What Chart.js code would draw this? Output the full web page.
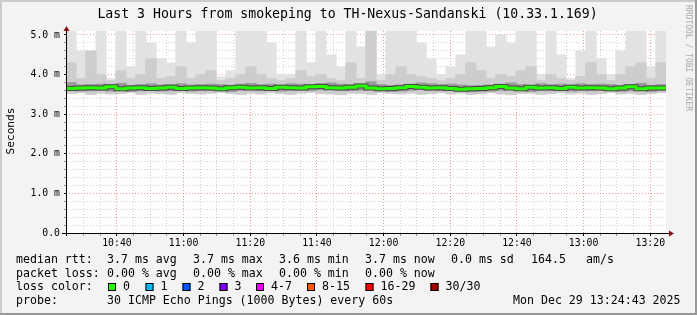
<!DOCTYPE html>
<html lang="en">
<head>
<meta charset="UTF-8">
<title>Last 3 Hours from smokeping to TH-Nexus-Sandanski</title>
<script src="https://cdn.jsdelivr.net/npm/chart.js"></script>
<style>
  html, body { margin: 0; padding: 0; background: #f3f3f3; }
  #wrap { position: relative; width: 697px; height: 315px; }
</style>
</head>
<body>
<div id="wrap"><canvas id="smoke-chart" width="697" height="315"></canvas></div>
<script>
// graph window: 10:24:43 .. 13:24:43, values in minutes since midnight
const startMin = 10 * 60 + 24 + 43 / 60;
const spanMin = 180;
const stepMin = 3;

// smoke, in ms (one column per step)
const smokeTop = [5.5, 4.6, 4.1, 5.5, 3.9, 5.5, 4.2, 5.3, 4.8, 4.4, 4.3, 5.5, 4.8, 5.5, 5.3,
                  3.95, 4.1, 5.5, 5.5, 5.5, 4.8, 4.0, 4.0, 5.5, 4.3, 5.5, 4.5, 4.2, 5.5, 4.7,
                  5.5, 4.0, 5.3, 5.5, 5.5, 4.8, 4.4, 4.0, 4.2, 4.5, 5.5, 5.5, 4.7, 5.0, 4.8,
                  5.5, 5.5, 4.0, 5.5, 4.5, 3.9, 4.6, 5.5, 4.4, 4.0, 4.6, 5.5, 5.3, 4.2, 5.5];
const smokeMid = [4.3, 3.9, 4.6, 4.0, 3.85, 4.1, 3.9, 4.0, 4.4, 3.9, 3.95, 4.2, 3.9, 4.0, 4.1,
                  3.85, 3.9, 4.0, 4.2, 4.0, 3.9, 3.85, 3.9, 4.1, 3.95, 4.0, 3.9, 3.85, 4.3, 3.9,
                  5.2, 3.85, 4.0, 4.2, 4.0, 3.95, 3.9, 3.85, 3.9, 4.0, 4.3, 4.1, 3.9, 4.0, 3.95,
                  4.1, 4.2, 3.85, 4.0, 3.9, 3.85, 3.95, 4.3, 4.0, 3.85, 4.0, 4.2, 4.3, 3.9, 4.3];
const smokeLow = [3.52, 3.54, 3.50, 3.53, 3.51, 3.52, 3.55, 3.50, 3.53, 3.52, 3.50, 3.54, 3.52, 3.51, 3.53,
                  3.55, 3.52, 3.50, 3.53, 3.51, 3.54, 3.52, 3.50, 3.53, 3.55, 3.52, 3.51, 3.49, 3.53, 3.52,
                  3.50, 3.54, 3.52, 3.51, 3.53, 3.50, 3.52, 3.54, 3.51, 3.53, 3.50, 3.52, 3.54, 3.51, 3.49,
                  3.52, 3.53, 3.50, 3.52, 3.54, 3.51, 3.53, 3.50, 3.52, 3.55, 3.51, 3.53, 3.50, 3.52, 3.54];
const bandLo = [3.60, 3.58, 3.59, 3.60, 3.58, 3.61, 3.57, 3.59, 3.60, 3.58, 3.59, 3.60, 3.58, 3.59, 3.60,
                3.59, 3.57, 3.60, 3.61, 3.59, 3.60, 3.58, 3.60, 3.60, 3.59, 3.61, 3.62, 3.60, 3.59, 3.60,
                3.62, 3.59, 3.57, 3.58, 3.60, 3.62, 3.60, 3.59, 3.60, 3.58, 3.56, 3.57, 3.58, 3.60, 3.62,
                3.59, 3.57, 3.60, 3.59, 3.60, 3.58, 3.60, 3.59, 3.60, 3.59, 3.57, 3.59, 3.61, 3.57, 3.59];
const bandHi = [3.80, 3.74, 3.75, 3.76, 3.75, 3.78, 3.73, 3.75, 3.77, 3.74, 3.75, 3.77, 3.74, 3.75, 3.76,
                3.75, 3.73, 3.76, 3.78, 3.75, 3.76, 3.74, 3.77, 3.76, 3.75, 3.78, 3.79, 3.76, 3.75, 3.77,
                3.82, 3.75, 3.73, 3.74, 3.76, 3.79, 3.77, 3.75, 3.76, 3.74, 3.72, 3.73, 3.74, 3.76, 3.79,
                3.75, 3.73, 3.77, 3.75, 3.76, 3.74, 3.77, 3.75, 3.76, 3.75, 3.73, 3.75, 3.78, 3.73, 3.75];
const median = [3.70, 3.65, 3.66, 3.67, 3.66, 3.69, 3.64, 3.66, 3.67, 3.65, 3.66, 3.68, 3.65, 3.66, 3.67,
                3.66, 3.64, 3.67, 3.68, 3.66, 3.67, 3.65, 3.68, 3.67, 3.66, 3.69, 3.70, 3.67, 3.66, 3.68,
                3.71, 3.66, 3.64, 3.65, 3.67, 3.70, 3.68, 3.66, 3.67, 3.65, 3.63, 3.64, 3.65, 3.67, 3.70,
                3.66, 3.64, 3.68, 3.66, 3.67, 3.65, 3.68, 3.66, 3.67, 3.66, 3.64, 3.66, 3.69, 3.64, 3.66];

// legend texts
const rttStats = ['3.7 ms avg', '3.7 ms max', '3.6 ms min', '3.7 ms now', '0.0 ms sd', '164.5', 'am/s'];
const lossStats = ['0.00 % avg', '0.00 % max', '0.00 % min', '0.00 % now'];
const lossLabels = ['0', '1', '2', '3', '4-7', '8-15', '16-29', '30/30'];
const lossColors = ['#26ff00', '#00b8ff', '#0059ff', '#7e00ff', '#ee00ff', '#ff5a00', '#ff0000', '#a00000'];
const probeText = '30 ICMP Echo Pings (1000 Bytes) every 60s';
const stampText = 'Mon Dec 29 13:24:43 2025';
const titleText = 'Last 3 Hours from smokeping to TH-Nexus-Sandanski (10.33.1.169)';

const mono = '"DejaVu Sans Mono", "Liberation Mono", monospace';

function colX(i) { return startMin + stepMin * i + stepMin / 2; }
function bars(lo, hi) { return lo.map((v, i) => ({ x: colX(i), y: [v, hi[i]] })); }
function steps(vals) {
    const pts = vals.map((v, i) => ({ x: startMin + stepMin * i, y: v }));
    pts.push({ x: startMin + spanMin, y: vals[vals.length - 1] });
    return pts;
}
function hhmm(v) {
    const h = Math.floor(v / 60), m = Math.round(v % 60);
    return h + ':' + String(m).padStart(2, '0');
}

// 600px for 180 min -> one 3 min column is 10px wide
const smokeBar = { type: 'bar', grouped: false, barThickness: 10.6, borderWidth: 0 };

const decor = {
    id: 'decor',
    beforeDraw(chart) {
        const { ctx, chartArea: a } = chart;
        ctx.save();
        ctx.fillStyle = '#f3f3f3';
        ctx.fillRect(0, 0, chart.width, chart.height);
        ctx.fillStyle = '#ffffff';
        ctx.fillRect(a.left, a.top, a.right - a.left, a.bottom - a.top);
        ctx.restore();
    },
    afterDraw(chart) {
        const { ctx, chartArea: a } = chart;
        ctx.save();

        // axes + arrows
        ctx.strokeStyle = '#000';
        ctx.lineWidth = 1;
        ctx.beginPath();
        ctx.moveTo(62, a.bottom + 0.5);
        ctx.lineTo(670, a.bottom + 0.5);
        ctx.moveTo(a.left + 0.5, a.bottom + 3);
        ctx.lineTo(a.left + 0.5, 29);
        ctx.stroke();
        ctx.fillStyle = '#8b1010';
        ctx.beginPath();
        ctx.moveTo(669, a.bottom - 2.5);
        ctx.lineTo(669, a.bottom + 3.5);
        ctx.lineTo(674, a.bottom + 0.5);
        ctx.fill();
        ctx.beginPath();
        ctx.moveTo(a.left - 2.5, 31);
        ctx.lineTo(a.left + 3.5, 31);
        ctx.lineTo(a.left + 0.5, 26);
        ctx.fill();

        // title
        ctx.fillStyle = '#000';
        ctx.font = '13.2px ' + mono;
        ctx.textAlign = 'center';
        ctx.textBaseline = 'alphabetic';
        ctx.fillText(titleText, 347.5, 18);

        // y title
        ctx.font = '11.2px ' + mono;
        ctx.save();
        ctx.translate(14, 131);
        ctx.rotate(-Math.PI / 2);
        ctx.fillText('Seconds', 0, 0);
        ctx.restore();

        // legend rows
        ctx.font = '11.6px ' + mono;
        ctx.textAlign = 'left';
        const rttX = [107, 193, 279, 365, 451, 531, 586];
        ctx.fillText('median rtt:', 16, 263);
        rttStats.forEach((t, i) => ctx.fillText(t, rttX[i], 263));
        ctx.fillText('packet loss:', 16, 277);
        lossStats.forEach((t, i) => ctx.fillText(t, rttX[i], 277));
        ctx.fillText('loss color:', 16, 290);
        const boxX = [108, 145.5, 182.5, 219.5, 256, 307, 365.5, 430.5];
        lossLabels.forEach((t, i) => {
            ctx.fillStyle = lossColors[i];
            ctx.fillRect(boxX[i], 283, 8, 8);
            ctx.strokeStyle = '#000';
            ctx.strokeRect(boxX[i] + 0.5, 283.5, 7, 7);
            ctx.fillStyle = '#000';
            ctx.fillText(t, boxX[i] + 15, 290);
        });
        ctx.fillText('probe:', 16, 304);
        ctx.fillText(probeText, 107, 304);
        ctx.fillText(stampText, 513, 304);

        // watermark
        ctx.fillStyle = '#a8a8a8';
        ctx.font = '8px ' + mono;
        ctx.save();
        ctx.translate(686, 5);
        ctx.rotate(Math.PI / 2);
        ctx.fillText('RRDTOOL / TOBI OETIKER', 0, 0);
        ctx.restore();

        // frame
        ctx.fillStyle = '#cbcbcb';
        ctx.fillRect(0, 0, chart.width, 2);
        ctx.fillRect(0, 0, 2, chart.height);
        ctx.fillStyle = '#999999';
        ctx.fillRect(0, chart.height - 2, chart.width, 2);
        ctx.fillRect(chart.width - 2, 0, 2, chart.height);
        ctx.restore();
    }
};

new Chart(document.getElementById('smoke-chart'), {
    type: 'bar',
    data: {
        datasets: [
            { ...smokeBar, label: 'smoke outer', data: bars(smokeLow, smokeTop), backgroundColor: '#e2e2e2', order: 6 },
            { ...smokeBar, label: 'smoke mid', data: bars(smokeLow, smokeMid), backgroundColor: '#cdcdcd', order: 5 },
            { ...smokeBar, label: 'smoke core', data: bars(bandLo, bandHi), backgroundColor: '#9a9a9a', order: 4 },
            { type: 'line', label: 'median edge', data: steps(median), stepped: 'after', borderColor: '#4a4a4a',
              borderWidth: 5, pointRadius: 0, order: 2 },
            { type: 'line', label: 'median rtt', data: steps(median), stepped: 'after', borderColor: '#26ff00',
              borderWidth: 3, pointRadius: 0, order: 1 }
        ]
    },
    options: {
        responsive: false,
        animation: false,
        devicePixelRatio: 1,
        layout: { padding: { top: 31, right: 31, bottom: 0, left: 0 } },
        plugins: { legend: { display: false }, tooltip: { enabled: false } },
        scales: {
            x: {
                type: 'linear',
                offset: false,
                min: startMin,
                max: startMin + spanMin,
                z: 1,
                afterFit: s => { s.height = 82; },
                afterBuildTicks: s => {
                    const t = [];
                    for (let v = 625; v <= 800; v += 5) t.push({ value: v });
                    s.ticks = t;
                },
                border: { display: false, dash: [1, 2] },
                grid: {
                    offset: false,
                    color: c => (c.tick && c.tick.value % 20 === 0) ? 'rgba(230,70,70,0.55)' : 'rgba(150,150,150,0.45)',
                    tickColor: c => (c.tick && c.tick.value % 20 === 0) ? '#000' : 'rgba(0,0,0,0.4)',
                    tickLength: 3
                },
                ticks: {
                    autoSkip: false,
                    maxRotation: 0,
                    padding: 2,
                    color: '#000',
                    font: { family: mono, size: 9.8 },
                    callback: v => (v % 20 === 0 ? hhmm(v) : '')
                }
            },
            y: {
                min: 0,
                max: 5.1,
                z: 1,
                afterFit: s => { s.width = 66; },
                afterBuildTicks: s => {
                    const t = [];
                    for (let k = 0; k <= 25; k++) t.push({ value: k / 5 });
                    s.ticks = t;
                },
                border: { display: false, dash: [1, 2] },
                grid: {
                    color: c => (c.tick && Math.abs(c.tick.value - Math.round(c.tick.value)) < 1e-6) ? 'rgba(230,70,70,0.55)' : 'rgba(150,150,150,0.45)',
                    tickColor: c => (c.tick && Math.abs(c.tick.value - Math.round(c.tick.value)) < 1e-6) ? '#000' : 'rgba(0,0,0,0.4)',
                    tickLength: 2
                },
                ticks: {
                    autoSkip: false,
                    padding: 4,
                    color: '#000',
                    font: { family: mono, size: 9.8 },
                    callback: v => {
                        if (Math.abs(v - Math.round(v)) > 1e-6) return '';
                        return v === 0 ? '0.0' : v.toFixed(1) + ' m';
                    }
                }
            }
        }
    },
    plugins: [decor]
});
</script>
</body>
</html>
